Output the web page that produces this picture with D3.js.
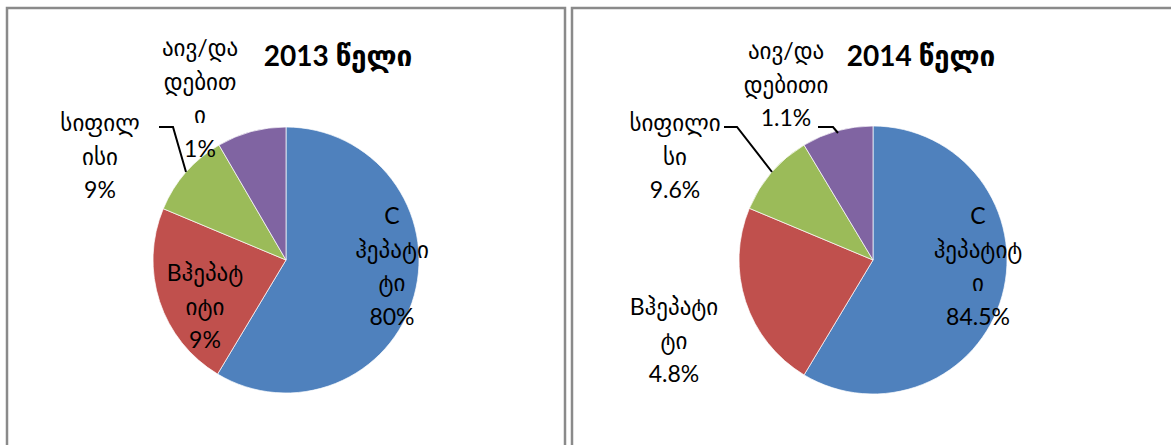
<!DOCTYPE html>
<html>
<head>
<meta charset="utf-8">
<script src="https://cdn.jsdelivr.net/npm/d3@7"></script>
<style>
  html, body { margin: 0; padding: 0; background: #fff; }
  svg { display: block; }
  text { font-family: Lato, "DejaVu Sans", sans-serif; fill: #000; }
</style>
</head>
<body>
<svg id="chart" width="1171" height="445"></svg>
<script>
// ---------- data ----------
const categories = ["C ჰეპატიტი", "B ჰეპატიტი", "სიფილისი", "აივ/დადებითი"];
const chartTitles = ["2013 წელი", "2014 წელი"];
// slice sizes as drawn in the picture (clockwise from 12 o'clock)
const slices2013 = [58.6, 22.7, 10.3, 8.4];
const slices2014 = [58.6, 22.7, 10.1, 8.6];
// percentages printed on the labels
const percents2013 = ["80%", "9%", "9%", "1%"];
const percents2014 = ["84.5%", "4.8%", "9.6%", "1.1%"];
// wrapped category-name lines as they appear in each label
const nameLines2013 = [["C", "ჰეპატი", "ტი"], ["Bჰეპატ", "იტი"], ["სიფილ", "ისი"], ["აივ/და", "დებით", "ი"]];
const nameLines2014 = [["C", "ჰეპატიტ", "ი"], ["Bჰეპატი", "ტი"], ["სიფილი", "სი"], ["აივ/და", "დებითი"]];
const colors = ["#4f81bd", "#c0504d", "#9bbb59", "#8064a2"];

// ---------- layout ----------
const panels = [
  { x0: 7, x1: 565, cx: 286, cy: 260, r: 133, titleX: 338,
    slices: slices2013, percents: percents2013, names: nameLines2013,
    labelPos: [[106, -45], [-81, 12], [-186, -138], [-86, -213]],
    leaders: [null, null, [[159, 127], [173, 127], [186, 172]], null] },
  { x0: 572, x1: 1180, cx: 873, cy: 260, r: 134, titleX: 921,
    slices: slices2014, percents: percents2014, names: nameLines2014,
    labelPos: [[105, -45], [-199, 46], [-198, -138], [-87, -210]],
    leaders: [null, null, [[724, 127], [737, 127], [772, 172]], [[818, 127], [833, 127], [838, 133]]] }
];
const lineH = 33.5;

const svg = d3.select("#chart");
const pie = d3.pie().sort(null).value(d => d);
const line = d3.line();

panels.forEach((p, pi) => {
  // frame
  svg.append("path")
    .attr("d", `M${p.x0},450 V8 H${p.x1} V450`)
    .attr("fill", "none").attr("stroke", "#8a8a8a").attr("stroke-width", 2.5);

  const arc = d3.arc().innerRadius(0).outerRadius(p.r);
  const g = svg.append("g").attr("transform", `translate(${p.cx},${p.cy})`);
  g.selectAll("path.slice").data(pie(p.slices)).join("path")
    .attr("class", "slice")
    .attr("d", arc)
    .attr("fill", (d, i) => colors[i])
    .attr("stroke", "#fff").attr("stroke-width", 0.7);

  // leader lines
  p.leaders.forEach(pts => {
    if (!pts) return;
    svg.append("path").attr("d", line(pts))
      .attr("fill", "none").attr("stroke", "#000").attr("stroke-width", 2);
  });

  // labels
  categories.forEach((c, i) => {
    const lines = p.names[i].concat([p.percents[i]]);
    const [dx, dy] = p.labelPos[i];
    const t = g.append("text")
      .attr("text-anchor", "middle")
      .attr("font-size", 23);
    lines.forEach((ln, k) => {
      t.append("tspan")
        .attr("x", dx)
        .attr("y", dy + k * lineH)
        .attr("dominant-baseline", "central")
        .text(ln);
    });
  });

  // title
  svg.append("text")
    .attr("x", p.titleX).attr("y", 55)
    .attr("text-anchor", "middle")
    .attr("dominant-baseline", "central")
    .attr("font-size", 28).attr("font-weight", "bold")
    .text(chartTitles[pi]);
});
</script>
</body>
</html>
